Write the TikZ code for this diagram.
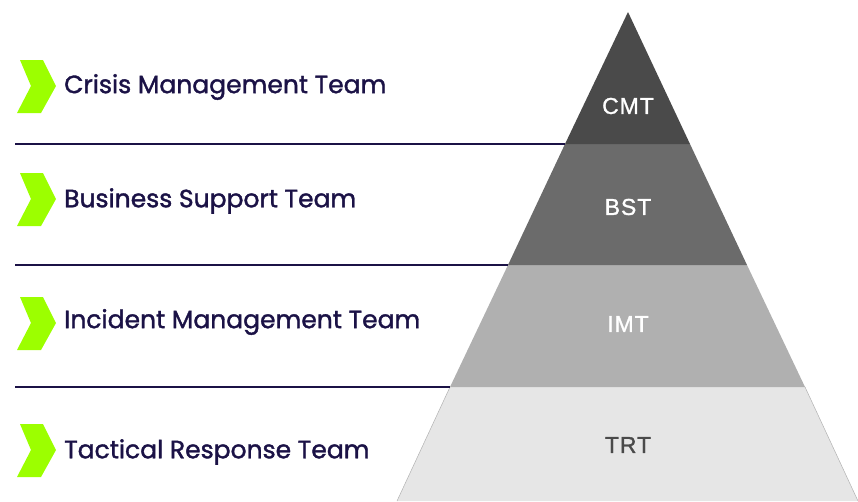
\documentclass[tikz,border=0pt]{standalone}
\usepackage{fontspec}
\setmainfont{Liberation Sans}
\newfontfamily\labfont[FakeBold=1.5]{Poppins}
\newfontfamily\abbrfont[FakeBold=1.2,LetterSpace=4]{Liberation Sans}
\definecolor{navy}{HTML}{1B1246}
\definecolor{lime}{HTML}{9CFF00}
\definecolor{cmtc}{HTML}{4A4A4A}
\definecolor{bstc}{HTML}{6B6B6B}
\definecolor{imtc}{HTML}{B0B0B0}
\definecolor{trtc}{HTML}{E6E6E6}
\begin{document}
\begin{tikzpicture}[x=1pt,y=-1pt,
  chev/.style={fill=lime},
  teamlabel/.style={anchor=west,text=navy,font=\labfont\fontsize{25}{29}\selectfont,inner sep=0pt},
  abbr/.style={font=\abbrfont\fontsize{23}{27}\selectfont,inner sep=0pt},
  sepline/.style={draw=navy,line width=1.3pt}]
\useasboundingbox (0,0) rectangle (858,501);
% pyramid bands
\fill[trtc] (450,387) -- (805,387) -- (858,501) -- (397,501) -- cycle;
\draw[black!30,line width=0.5pt] (450,387) -- (397,501) (805,387) -- (858,501);
\fill[imtc] (508,265) -- (747,265) -- (805,387) -- (450,387) -- cycle;
\fill[bstc] (565,144) -- (690,144) -- (747,265) -- (508,265) -- cycle;
\fill[cmtc] (628,12) -- (690,144) -- (565,144) -- cycle;
% abbreviations
\node[abbr,text=white] (cmt) at (628,106) {CMT};
\node[abbr,text=white] (bst) at (628,207) {BST};
\node[abbr,text=white] (imt) at (628,324) {IMT};
\node[abbr,text=cmtc] (trt) at (628,445) {TRT};
% separator lines
\coordinate (l1a) at (15,144); \coordinate (l1b) at (565,144);
\coordinate (l2a) at (15,265); \coordinate (l2b) at (508,265);
\coordinate (l3a) at (15,387); \coordinate (l3b) at (450,387);
\draw[sepline] (l1a) -- (l1b);
\draw[sepline] (l2a) -- (l2b);
\draw[sepline] (l3a) -- (l3b);
% chevrons
\foreach \y/\n in {86/c1,199/c2,323/c3,450/c4}{
  \fill[chev] (20,\y-26) -- (43,\y-26) -- (56,\y) -- (41,\y+27) -- (17,\y+27) -- (31,\y) -- cycle;
}
% labels
\node[teamlabel] (t1) at (64,87) {Crisis Management Team};
\node[teamlabel] (t2) at (64,201) {Business Support Team};
\node[teamlabel] (t3) at (64,322) {Incident Management Team};
\node[teamlabel] (t4) at (64,452) {Tactical Response Team};
\end{tikzpicture}
\end{document}
